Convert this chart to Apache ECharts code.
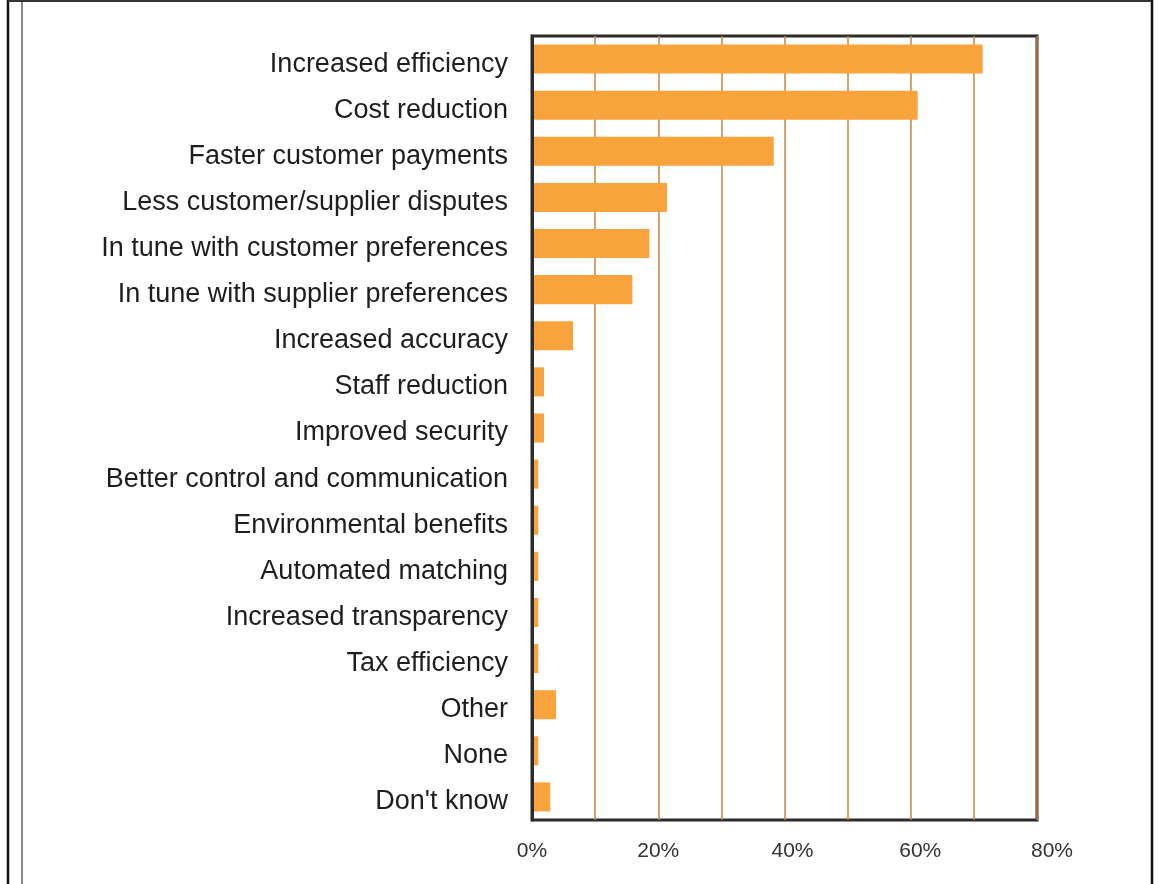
<!DOCTYPE html>
<html>
<head>
<meta charset="utf-8">
<script src="https://cdn.jsdelivr.net/npm/echarts@6/dist/echarts.min.js"></script>
<style>html,body{margin:0;padding:0;background:#fff;}#c{width:1162px;height:884px;}</style>
</head>
<body>
<div id="c"></div>
<script>
const categories = [
  "Increased efficiency",
  "Cost reduction",
  "Faster customer payments",
  "Less customer/supplier disputes",
  "In tune with customer preferences",
  "In tune with supplier preferences",
  "Increased accuracy",
  "Staff reduction",
  "Improved security",
  "Better control and communication",
  "Environmental benefits",
  "Automated matching",
  "Increased transparency",
  "Tax efficiency",
  "Other",
  "None",
  "Don't know"
];
const values = [71.4, 61.1, 38.3, 21.4, 18.6, 15.9, 6.5, 1.9, 1.9, 1.0, 1.0, 1.0, 1.0, 1.0, 3.8, 1.0, 2.9];
const tickLabels = [0, 20, 40, 60, 80];

const chart = echarts.init(document.getElementById('c'), null, {renderer: 'canvas'});
chart.setOption({
  animation: false,
  backgroundColor: '#ffffff',
  grid: {
    left: 532, top: 36, right: 125, bottom: 64,
    show: true, borderColor: '#2b2b2b', borderWidth: 3, backgroundColor: 'transparent'
  },
  xAxis: {
    type: 'value', min: 0, max: 80, interval: 10,
    axisLine: {show: false}, axisTick: {show: false},
    splitLine: {show: true, lineStyle: {color: '#c8843f', width: 1.5}},
    axisLabel: {
      margin: 21,
      color: '#333333',
      fontFamily: 'Liberation Sans, Arial, sans-serif',
      fontSize: 21,
      formatter: function (v) {
        if (tickLabels.indexOf(v) < 0) return '';
        return '{l' + v + '|' + v + '%}';
      },
      rich: {
        l0: {fontSize: 21, color: '#333'},
        l20: {fontSize: 21, color: '#333'},
        l40: {fontSize: 21, color: '#333', padding: [0, 0, 0, 16]},
        l60: {fontSize: 21, color: '#333', padding: [0, 0, 0, 19]},
        l80: {fontSize: 21, color: '#333', padding: [0, 0, 0, 30]}
      }
    }
  },
  yAxis: {
    type: 'category', data: categories, inverse: true, z: 5,
    axisLine: {show: true, lineStyle: {color: '#2b2b2b', width: 3}},
    axisTick: {show: false}, splitLine: {show: false},
    axisLabel: {
      margin: 24, color: '#1e1e1e',
      fontFamily: 'Liberation Sans, Arial, sans-serif',
      fontSize: 27,
      formatter: function (v) { return '{a|' + v + '}'; },
      rich: {
        a: {
          fontSize: 27, color: '#1e1e1e',
          fontFamily: 'Liberation Sans, Arial, sans-serif',
          padding: [10, 0, 0, 0]
        }
      }
    }
  },
  series: [{
    type: 'bar', data: values, barCategoryGap: '37%',
    itemStyle: {color: '#f8a33c'}
  }],
  graphic: [
    {type: 'line', shape: {x1: 8, y1: 0, x2: 8, y2: 884}, style: {stroke: '#111', lineWidth: 2.5}, silent: true},
    {type: 'line', shape: {x1: 22, y1: 0, x2: 22, y2: 884}, style: {stroke: '#8a8a8a', lineWidth: 2}, silent: true},
    {type: 'line', shape: {x1: 8, y1: 1, x2: 1152, y2: 1}, style: {stroke: '#333', lineWidth: 2}, silent: true},
    {type: 'line', shape: {x1: 1152, y1: 0, x2: 1152, y2: 884}, style: {stroke: '#111', lineWidth: 2.5}, silent: true}
  ]
});
</script>
</body>
</html>
